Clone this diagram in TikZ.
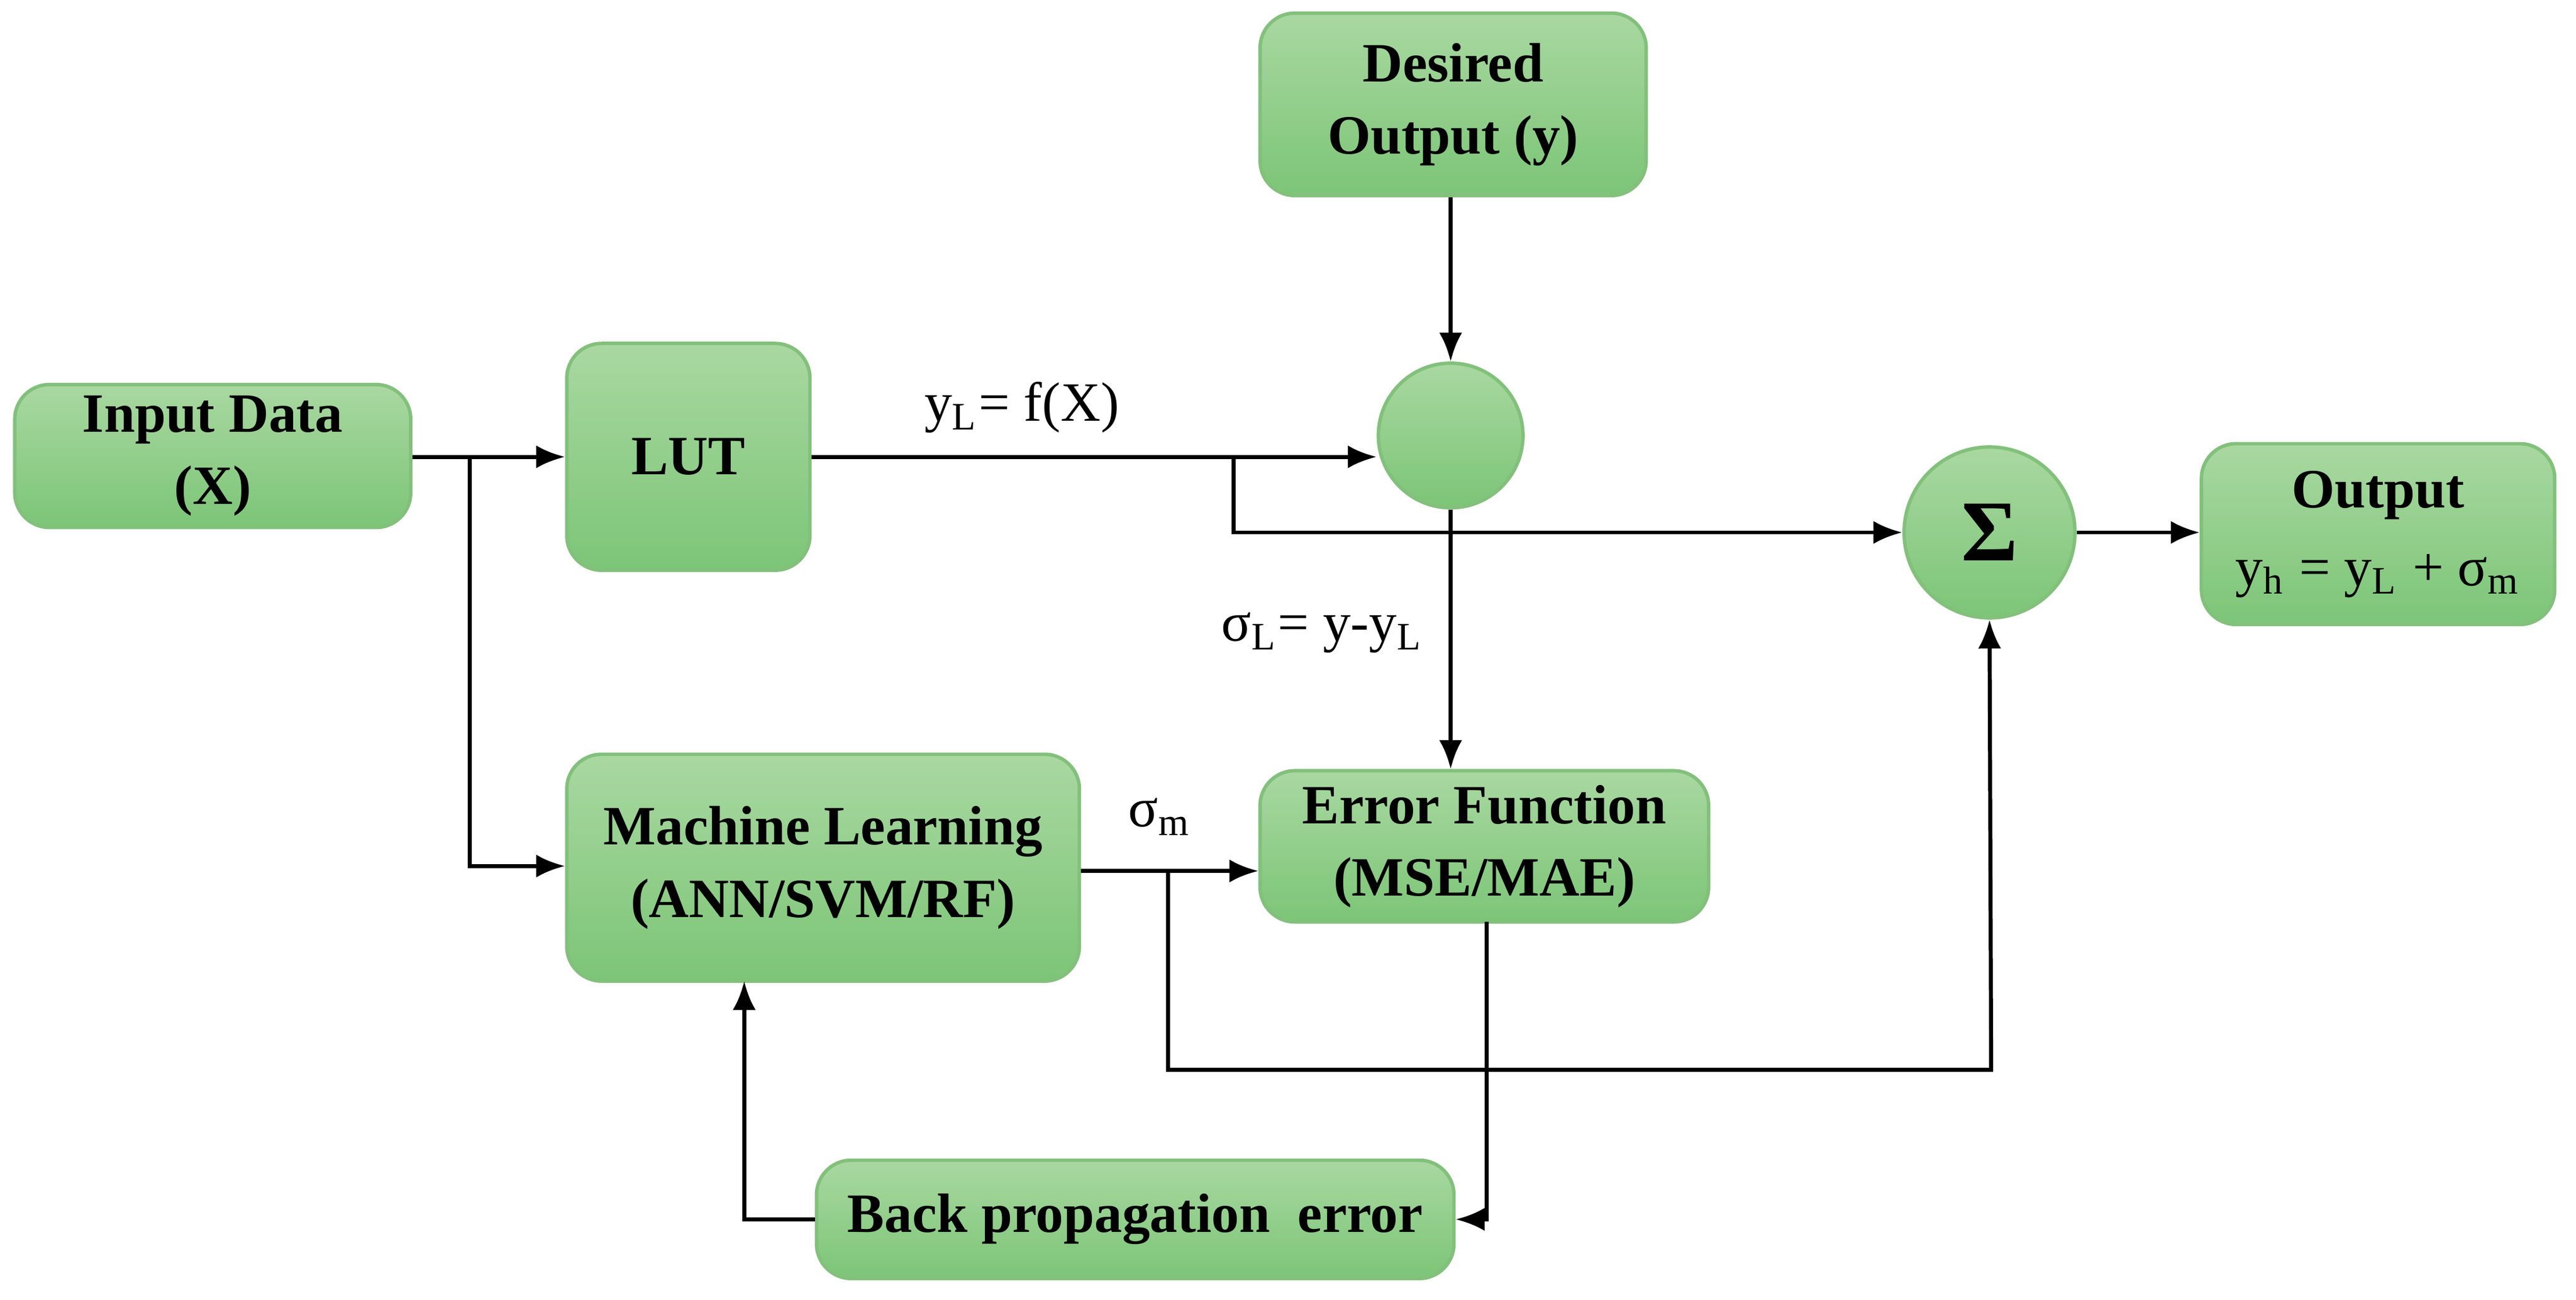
\documentclass[tikz,border=0pt]{standalone}
\usepackage{fontspec}
\setmainfont{Liberation Serif}
\usetikzlibrary{arrows.meta}
\definecolor{gtop}{HTML}{A9D8A1}
\definecolor{gbot}{HTML}{7CC577}
\definecolor{gbd}{HTML}{82C07C}
\begin{document}
\begin{tikzpicture}[x=1cm,y=-1cm,
  box/.style={draw=gbd,line width=0.6pt,rounded corners=6pt,top color=gtop,bottom color=gbot,
    font=\fontsize{9.6}{12.5}\selectfont\bfseries,align=center,inner sep=0pt},
  circ/.style={circle,draw=gbd,line width=0.6pt,top color=gtop,bottom color=gbot,inner sep=0pt},
  ar/.style={-{Latex[length=5pt,width=4pt]},line width=0.7pt},
  lab/.style={font=\fontsize{9.6}{12}\selectfont}]
\useasboundingbox (0,0) rectangle (15.68,7.91);
\node[box,minimum width=2.41cm,minimum height=0.87cm] (in) at (1.295,2.775) {Input Data\\(X)};
\node[box,minimum width=1.48cm,minimum height=1.38cm] (lut) at (4.19,2.78) {LUT};
\node[box,minimum width=2.35cm,minimum height=1.11cm] (des) at (8.845,0.635) {Desired\\Output (y)};
\node[circ,minimum size=0.88cm] (c) at (8.83,2.65) {};
\node[circ,minimum size=1.04cm,font=\fontsize{15}{15}\selectfont\bfseries] (sig) at (12.11,3.24) {Σ};
\node[box,minimum width=2.15cm,minimum height=1.10cm] (out) at (14.475,3.25) {Output\\[1pt]\mdseries y\textsubscript{h} = y\textsubscript{L} + σ\textsubscript{m}};
\node[box,minimum width=3.12cm,minimum height=1.38cm] (ml) at (5.01,5.28) {Machine Learning\\(ANN/SVM/RF)};
\node[box,minimum width=2.73cm,minimum height=0.92cm] (err) at (9.035,5.15) {Error Function\\(MSE/MAE)};
\node[box,minimum width=3.88cm,minimum height=0.72cm] (bp) at (6.91,7.42) {Back propagation~~error};
\coordinate (b1) at (2.86,2.78);
\coordinate (b2) at (7.51,2.78);
\coordinate (b3) at (7.11,5.30);
\draw[ar] (in.east|-b1) -- (lut.west|-b1);
\draw[ar] (b1) |- (ml.west|-0,5.27);
\draw[ar] (lut.east|-b1) -- (c.west|-b1);
\draw[ar] (b2) |- (sig.west);
\draw[ar] (des.south-|c) -- (c.north);
\draw[ar] (c.south) -- (err.north-|c);
\draw[ar] (ml.east|-b3) -- (err.west|-b3);
\draw[ar] (b3) |- (12.12,6.51) -- (sig.south);
\draw[ar] (9.05,5.61) |- (bp.east);
\draw[ar] (bp.west) -| (4.53,5.97);
\draw[ar] (sig.east) -- (out.west|-sig);
\node[lab] at (6.22,2.48) {y\textsubscript{L}= f(X)};
\node[lab] at (8.05,3.85) {σ\textsubscript{L}= y-y\textsubscript{L}};
\node[lab] at (7.06,4.97) {σ\textsubscript{m}};
\end{tikzpicture}
\end{document}
